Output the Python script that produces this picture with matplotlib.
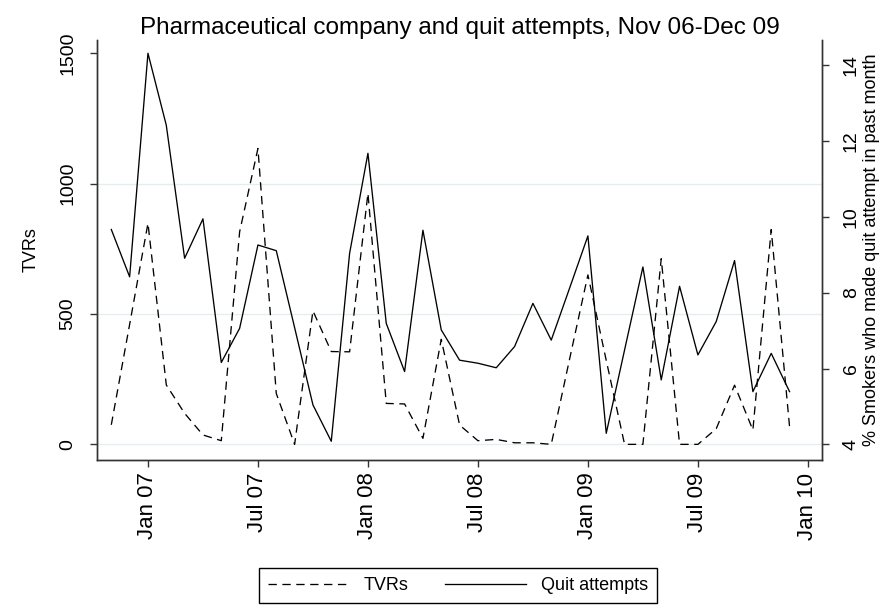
import matplotlib
matplotlib.use("Agg")
import matplotlib.pyplot as plt
from matplotlib.lines import Line2D

plt.rcParams['font.family'] = ['Liberation Sans', 'DejaVu Sans']
plt.rcParams['lines.scale_dashes'] = False

# monthly data, Nov 06 .. Dec 09
months = ['Nov 06', 'Dec 06',
          'Jan 07', 'Feb 07', 'Mar 07', 'Apr 07', 'May 07', 'Jun 07',
          'Jul 07', 'Aug 07', 'Sep 07', 'Oct 07', 'Nov 07', 'Dec 07',
          'Jan 08', 'Feb 08', 'Mar 08', 'Apr 08', 'May 08', 'Jun 08',
          'Jul 08', 'Aug 08', 'Sep 08', 'Oct 08', 'Nov 08', 'Dec 08',
          'Jan 09', 'Feb 09', 'Mar 09', 'Apr 09', 'May 09', 'Jun 09',
          'Jul 09', 'Aug 09', 'Sep 09', 'Oct 09', 'Nov 09', 'Dec 09']

tvrs = [75, 460, 848, 228, 119, 36, 14, 815, 1135, 195, 0, 512, 356,
        355, 963, 157, 155, 23, 403, 74, 14, 19, 6, 6, 0, 327, 650, 322,
        0, 0, 712, 0, 0, 60, 227, 55, 824, 68]

quit_attempts = [9.67, 8.42, 14.32, 12.42, 8.91, 9.95, 6.16, 7.06, 9.26,
                 9.11, 7.08, 5.04, 4.08, 9.04, 11.68, 7.19, 5.92, 9.65,
                 7.02, 6.22, 6.14, 6.02, 6.58, 7.72, 6.75, 8.12, 9.50,
                 4.29, 6.49, 8.68, 5.70, 8.17, 6.36, 7.24, 8.85, 5.39,
                 6.40, 5.39]

tick_labels = ['Jan 07', 'Jul 07', 'Jan 08', 'Jul 08', 'Jan 09', 'Jul 09', 'Jan 10']
tick_pos = [2, 8, 14, 20, 26, 32, 38]
left_ticks = [0, 500, 1000, 1500]
right_ticks = [4, 6, 8, 10, 12, 14]

x = list(range(len(months)))

fig = plt.figure(figsize=(8.92, 6.06), dpi=100)
ax = fig.add_axes([97/892, 1-460/606, 725/892, 420/606])
ax2 = ax.twinx()

for g in [0, 500, 1000]:
    ax.axhline(g, color='#e4eef0', lw=1, zorder=0)

ax.plot(x, tvrs, color='black', lw=0.95, linestyle=(0, (6, 4)))
ax2.plot(x, quit_attempts, color='black', lw=0.95)

ax.set_xlim(-0.78, 38.77)
ax.set_ylim(-60, 1551)
ax2.set_ylim(3.586, 14.67)

ax.set_xticks(tick_pos)
ax.set_xticklabels(tick_labels, rotation=90, fontsize=16)
ax.set_yticks(left_ticks)
ax.set_yticklabels([str(t) for t in left_ticks], rotation=90, va='center', fontsize=14)
ax2.set_yticks(right_ticks)
ax2.set_yticklabels([str(t) for t in right_ticks], rotation=90, va='center', fontsize=14)

for a in (ax, ax2):
    a.spines['top'].set_visible(False)
    for s in ('left', 'right', 'bottom'):
        a.spines[s].set_color('#333333')
        a.spines[s].set_linewidth(1.0)
ax.tick_params(axis='y', length=5, width=1, color='#333333', pad=10)
ax.tick_params(axis='x', length=5, width=1, color='#333333', pad=4)
ax2.tick_params(axis='y', length=5, width=1, color='#333333', pad=10)

ax.set_ylabel('TVRs', fontsize=13, labelpad=14)
ax2.set_ylabel('% Smokers who made quit attempt in past month', fontsize=13, labelpad=2)
ax.set_title('Pharmaceutical company and quit attempts, Nov 06-Dec 09',
             fontsize=17.5, pad=4)

handles = [Line2D([], [], color='black', lw=0.95, linestyle=(0, (6, 4))),
           Line2D([], [], color='black', lw=0.95)]
leg = fig.legend(handles, ['TVRs', 'Quit attempts'], loc='center',
                 bbox_to_anchor=(458/892, 1-585.5/606), ncol=2, fontsize=13,
                 handlelength=4.5, handletextpad=0.8, columnspacing=2.0,
                 borderpad=0.5, fancybox=False, framealpha=1, edgecolor='black')
leg.get_frame().set_linewidth(1.0)

fig.savefig('out.png', dpi=100)
